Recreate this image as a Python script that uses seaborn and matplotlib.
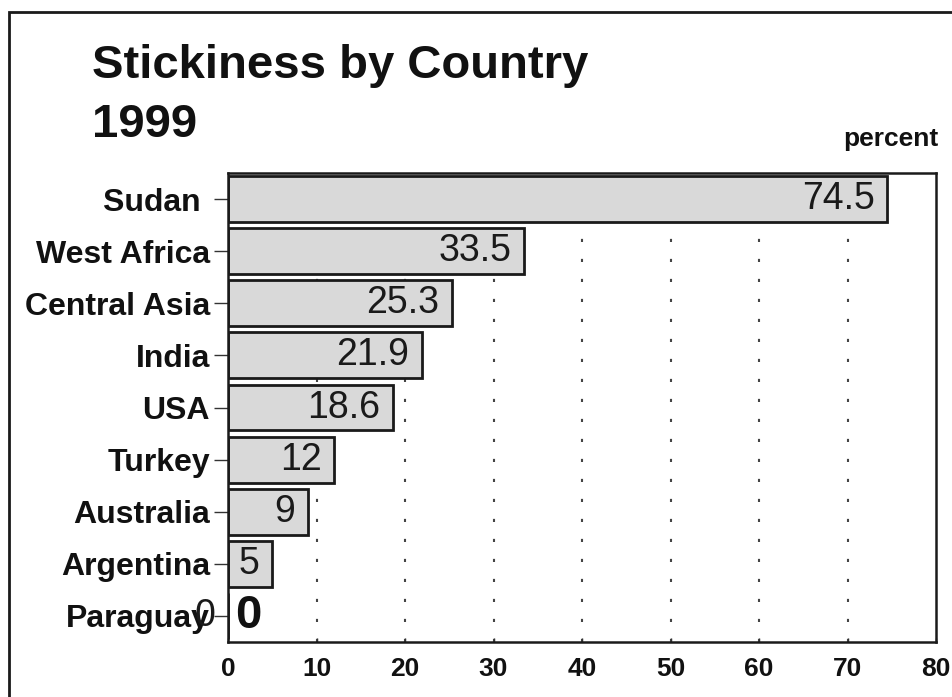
import matplotlib
matplotlib.use("Agg")
import matplotlib.pyplot as plt
import matplotlib.patches as mpatches
import seaborn as sns
import pandas as pd

countries = ["Sudan", "West Africa", "Central Asia", "India", "USA",
             "Turkey", "Australia", "Argentina", "Paraguay"]
values = [74.5, 33.5, 25.3, 21.9, 18.6, 12, 9, 5, 0]
value_labels = ["74.5", "33.5", "25.3", "21.9", "18.6", "12", "9", "5", "0"]
x_ticks = [0, 10, 20, 30, 40, 50, 60, 70, 80]
title = "Stickiness by Country\n1999"
unit = "percent"

sns.set_theme(style="white")
plt.rcParams["font.family"] = ["Liberation Sans", "DejaVu Sans"]

df = pd.DataFrame({"country": countries, "value": values})

fig = plt.figure(figsize=(9.52, 6.97), dpi=100)
ax = fig.add_axes([0.2395, 0.0789, 0.7437, 0.6729])

sns.barplot(data=df, x="value", y="country", orient="h", ax=ax,
            color="#d9d9d9", saturation=1, edgecolor="#1a1a1a",
            linewidth=2, width=0.88)

ax.set_xlim(0, 80)
ax.set_ylim(len(countries) - 0.5, -0.5)
ax.set_xticks(x_ticks)
ax.set_xticklabels([str(t) for t in x_ticks], fontsize=19, fontweight="bold",
                   color="#111111")
ax.set_yticks(range(len(countries)))
ax.set_yticklabels([c if c != "Sudan" else "Sudan " for c in countries],
                   fontsize=23, fontweight="bold", color="#111111")
ax.set_xlabel("")
ax.set_ylabel("")

for s in ax.spines.values():
    s.set_color("#1a1a1a")
    s.set_linewidth(1.8)

ax.tick_params(axis="y", direction="out", length=10, width=1, color="#333333",
               pad=3, left=True)
ax.tick_params(axis="x", direction="in", length=3, width=1, color="#333333",
               pad=11, bottom=True)

for t in x_ticks[1:-1]:
    ax.axvline(t, color="#444444", linewidth=1.5, linestyle=(0, (1.5, 8.1)),
               zorder=0)

for i, (v, lab) in enumerate(zip(values, value_labels)):
    if v > 0:
        ax.annotate(lab, (v, i), xytext=(-9, 0), textcoords="offset points",
                    ha="right", va="center", fontsize=27, color="#1a1a1a")
    else:
        ax.annotate(lab, (v, i), xytext=(5, 0), textcoords="offset points",
                    ha="left", va="center", fontsize=34, fontweight="bold",
                    color="#111111")
        ax.annotate(lab, (v, i), xytext=(-9, 0), textcoords="offset points",
                    ha="right", va="center", fontsize=27, color="#1a1a1a",
                    annotation_clip=False)

fig.text(92 / 952, 1 - 78 / 697, title.split("\n")[0], fontsize=34,
         fontweight="bold", ha="left", va="baseline", color="#111111")
fig.text(92 / 952, 1 - 137 / 697, title.split("\n")[1], fontsize=34,
         fontweight="bold", ha="left", va="baseline", color="#111111")
fig.text(938 / 952, 1 - 146 / 697, unit, fontsize=19, fontweight="bold",
         ha="right", va="baseline", color="#111111")

frame = mpatches.Rectangle((9 / 952, -0.05), 1.2, 1 - 12 / 697 + 0.05,
                           transform=fig.transFigure, fill=False,
                           edgecolor="#1a1a1a", linewidth=2, clip_on=False)
fig.patches.append(frame)

fig.savefig("out.png", dpi=100)
